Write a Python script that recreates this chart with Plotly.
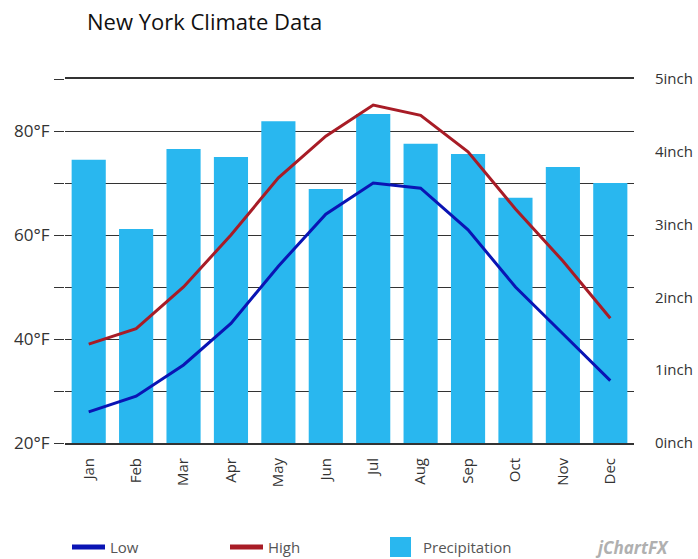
import plotly.graph_objects as go

months = ["Jan", "Feb", "Mar", "Apr", "May", "Jun", "Jul", "Aug", "Sep", "Oct", "Nov", "Dec"]
low_f = [26, 29, 35, 43, 54, 64, 70, 69, 61, 50, 41, 32]
high_f = [39, 42, 50, 60, 71, 79, 85, 83, 76, 65, 55, 44]
precip_in = [3.89, 2.94, 4.04, 3.93, 4.42, 3.49, 4.52, 4.11, 3.97, 3.37, 3.79, 3.57]

temp_ticks = [20, 30, 40, 50, 60, 70, 80, 90]
temp_labels = ["20°F", "", "40°F", "", "60°F", "", "80°F", ""]
precip_ticks = [0, 1, 2, 3, 4, 5]
precip_labels = ["0inch", "1inch", "2inch", "3inch", "4inch", "5inch"]

FONT = "Open Sans"
LOW_C = "#0A14B4"
HIGH_C = "#A81C26"
BAR_C = "#29B7EF"

W, H = 698, 559
L, T, R, B = 65, 79, 64, 116
PW, PH = W - L - R, H - T - B


def px(X):  # window x -> paper x
    return (X - L) / PW


def py(Y):  # window y -> paper y
    return (H - B - Y) / PH


fig = go.Figure()
fig.add_trace(go.Bar(
    x=months, y=precip_in, name="Precipitation", yaxis="y",
    marker=dict(color=BAR_C, line=dict(width=0)),
))
fig.add_trace(go.Scatter(
    x=months, y=low_f, name="Low", yaxis="y2", mode="lines",
    line=dict(color=LOW_C, width=3),
))
fig.add_trace(go.Scatter(
    x=months, y=high_f, name="High", yaxis="y2", mode="lines",
    line=dict(color=HIGH_C, width=3),
))

legend_y = 547
shapes = [
    dict(type="line", xref="paper", yref="paper", x0=px(72), x1=px(105), y0=py(legend_y), y1=py(legend_y),
         line=dict(color=LOW_C, width=5)),
    dict(type="line", xref="paper", yref="paper", x0=px(230), x1=px(263), y0=py(legend_y), y1=py(legend_y),
         line=dict(color=HIGH_C, width=5)),
    dict(type="rect", xref="paper", yref="paper", x0=px(390), x1=px(411), y0=py(537), y1=py(557),
         fillcolor=BAR_C, line=dict(width=0)),
]
legend_font = dict(size=15, color="#555555", family=FONT)
annotations = [
    dict(text="Low", xref="paper", yref="paper", x=px(108), y=py(legend_y), xanchor="left", yanchor="middle",
         showarrow=False, font=legend_font),
    dict(text="High", xref="paper", yref="paper", x=px(266), y=py(legend_y), xanchor="left", yanchor="middle",
         showarrow=False, font=legend_font),
    dict(text="Precipitation", xref="paper", yref="paper", x=px(421), y=py(legend_y), xanchor="left",
         yanchor="middle", showarrow=False, font=legend_font),
    dict(text="<i><b>jChartFX</b></i>", xref="paper", yref="paper", x=px(593), y=py(legend_y),
         xanchor="left", yanchor="middle", showarrow=False,
         font=dict(size=17, color="#B0B0B0", family=FONT)),
]

fig.update_layout(
    width=W, height=H,
    margin=dict(l=L, r=R, t=T, b=B, autoexpand=False),
    paper_bgcolor="white", plot_bgcolor="white",
    font=dict(family=FONT, color="#333333"),
    title=dict(text="New York Climate Data", x=87 / W, xanchor="left", xref="container",
               y=1 - 22 / H, yanchor="middle", yref="container",
               font=dict(size=22, color="#111111", family=FONT)),
    bargap=0.28,
    showlegend=False,
    xaxis=dict(
        tickangle=-90, tickfont=dict(size=15, color="#333333"),
        showline=True, linecolor="#333333", linewidth=2, mirror=True,
        showgrid=False, ticks="", ticklabelstandoff=7, automargin=False,
    ),
    yaxis=dict(
        side="right", range=[0, 5], tickvals=precip_ticks, ticktext=precip_labels,
        showgrid=False, zeroline=False, ticks="", automargin=False,
        tickfont=dict(size=15, color="#333333"), ticklabelstandoff=20,
    ),
    yaxis2=dict(
        overlaying="y", side="left", range=[20, 90], tickvals=temp_ticks, ticktext=temp_labels,
        showgrid=True, gridcolor="#333333", gridwidth=1.3, zeroline=False, automargin=False,
        ticks="outside", ticklen=10, tickcolor="#333333", tickwidth=1.3,
        tickfont=dict(size=17, color="#333333"), ticklabelstandoff=1,
    ),
    shapes=shapes,
    annotations=annotations,
)

fig.write_html(
    "out.html",
    config={"displayModeBar": False},
    post_script="document.body.style.margin='0';document.body.style.overflow='hidden';",
)
